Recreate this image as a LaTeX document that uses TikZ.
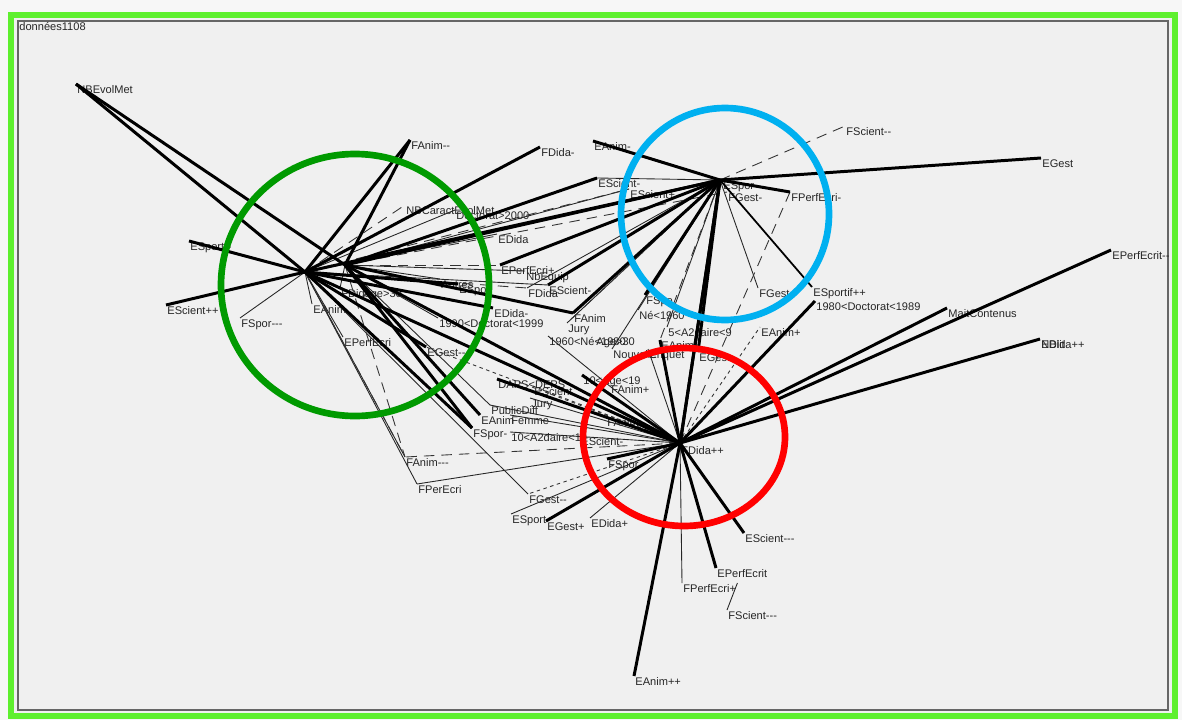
\documentclass[tikz,border=0pt]{standalone}
\usepackage{fontspec}
\setmainfont{Liberation Sans}[Ligatures=TeXOff]
\usetikzlibrary{positioning}
\definecolor{winbg}{HTML}{F0F0F0}
\definecolor{framegreen}{HTML}{5EF02E}
\definecolor{ringgreen}{HTML}{009A00}
\definecolor{ringblue}{HTML}{00B0F0}
\definecolor{ringred}{HTML}{FF0000}
\tikzstyle{lbl} = [anchor=north west, inner sep=0.6pt, font=\fontsize{6.3}{7}\selectfont, text=black!85]
\tikzstyle{heavy} = [line width=1.7pt, black]
\tikzstyle{medium} = [line width=1pt, black]
\tikzstyle{light} = [line width=0.5pt, black!85]
\tikzstyle{dashline} = [line width=0.5pt, black!80, dash pattern=on 6pt off 4pt]
\tikzstyle{dotline} = [line width=0.5pt, black!80, dash pattern=on 2pt off 2pt]
\tikzstyle{ring} = [line width=3.8pt]

\begin{document}
\begin{tikzpicture}[x=0.02cm, y=-0.02cm]
        % window
        \fill [white!97!black] (0,0) rectangle (1182,720);
        \fill [winbg] (11,15) rectangle (1175,716);
        \draw [framegreen, line width=3.4pt] (11,15) rectangle (1175,716);
        \draw [black!60, line width=1pt] (18,21) rectangle (1168,710);
        \node (title) [lbl] at (18,21) {données1108};

        % hubs
        \coordinate (hA) at (305,272);
        \coordinate (hB) at (345,265);
        \coordinate (hC) at (720,180);
        \coordinate (hD) at (680,443);

        % modalities
        \node (nbevol) [lbl] at (76,84) {NBEvolMet};
        \node (fanimmm) [lbl] at (410,140) {FAnim--};
        \node (fdidam) [lbl] at (540,147) {FDida-};
        \node (eanimm) [lbl] at (593,141) {EAnim-};
        \node (fscientmm) [lbl] at (845,126) {FScient--};
        \node (egest) [lbl] at (1041,158) {EGest};
        \node (escientm) [lbl] at (597,178) {EScient-};
        \node (escientp) [lbl] at (629,189) {EScient+};
        \node (esporc) [lbl] at (722,180) {ESpor};
        \node (fgestm) [lbl] at (727,192) {FGest-};
        \node (fperfm) [lbl] at (790,192) {FPerfEcri-};
        \node (nbcar) [lbl] at (405,205) {NBCaractEvolMet};
        \node (doct2000) [lbl] at (455,210) {Doctorat>2000};
        \node (edida) [lbl] at (497,234) {EDida};
        \node (esportmm) [lbl] at (189,241) {ESport--};
        \node (escientpp) [lbl] at (166,305) {EScient++};
        \node (fspormmm) [lbl] at (240,318) {FSpor---};
        \node (eanim) [lbl] at (312,304) {EAnim};
        \node (fdida) [lbl] at (340,288) {FDida};
        \node (age30a) [lbl] at (362,288) {Age>30};
        \node (eperf) [lbl] at (343,337) {EPerfEcri};
        \node (egestmm) [lbl] at (426,347) {EGest--};
        \node (autres) [lbl] at (440,279) {Autres};
        \node (espo) [lbl] at (458,284) {ESpor};
        \node (eperfp) [lbl] at (500,265) {EPerfEcri+};
        \node (nbequip) [lbl] at (525,271) {NbEquip};
        \node (fdidab) [lbl] at (527,288) {FDida};
        \node (escientb) [lbl] at (548,285) {EScient-};
        \node (edidam) [lbl] at (493,308) {EDida-};
        \node (d1990) [lbl] at (438,318) {1990<Doctorat<1999};
        \node (fanim) [lbl] at (573,313) {FAnim};
        \node (jury) [lbl] at (567,323) {Jury};
        \node (n1960) [lbl] at (548,336) {1960<Né<1980};
        \node (age30b) [lbl] at (595,336) {Age>30};
        \node (fspo) [lbl] at (645,295) {FSpo};
        \node (ne1960) [lbl] at (638,310) {Né<1960};
        \node (a2d59) [lbl] at (667,327) {5<A2daire<9};
        \node (eanimb) [lbl] at (660,340) {EAnim-};
        \node (nouv) [lbl] at (612,349) {Nouvelle};
        \node (enquet) [lbl] at (648,349) {Enquet};
        \node (egeb) [lbl] at (698,352) {EGest};
        \node (eanimp) [lbl] at (760,327) {EAnim+};
        \node (fgest) [lbl] at (758,288) {FGest};
        \node (esportpp) [lbl] at (812,287) {ESportif++};
        \node (d1980) [lbl] at (815,301) {1980<Doctorat<1989};
        \node (mait) [lbl] at (947,308) {MaitContenus};
        \node (eperfmm) [lbl] at (1111,250) {EPerfEcrit--};
        \node (nblit) [lbl] at (1040,339) {NBlit};
        \node (edidapp) [lbl] at (1040,339) {EDida++};
        \node (daps) [lbl] at (497,379) {DAPS<DEPS};
        \node (escientc) [lbl] at (533,386) {EScient};
        \node (juryb) [lbl] at (530,398) {Jury};
        \node (public) [lbl] at (490,405) {PublicDiff};
        \node (eanimf) [lbl] at (480,415) {EAnim};
        \node (femme) [lbl] at (510,415) {Femme};
        \node (fspor) [lbl] at (472,428) {FSpor-};
        \node (a2d1019) [lbl] at (510,432) {10<A2daire<19};
        \node (escientd) [lbl] at (580,436) {EScient-};
        \node (age1019) [lbl] at (582,375) {10<Age<19};
        \node (fanimp) [lbl] at (610,384) {FAnim+};
        \node (fanimm) [lbl] at (606,417) {FAnim-};
        \node (fsporb) [lbl] at (607,459) {FSpor};
        \node (fdidapp) [lbl] at (680,445) {FDida++};
        \node (fanimmmm) [lbl] at (405,457) {FAnim---};
        \node (fperecri) [lbl] at (417,484) {FPerEcri};
        \node (fgestmm) [lbl] at (528,494) {FGest--};
        \node (esport) [lbl] at (511,514) {ESport};
        \node (egestp) [lbl] at (546,521) {EGest+};
        \node (edidap) [lbl] at (590,518) {EDida+};
        \node (escientmmm) [lbl] at (744,533) {EScient---};
        \node (eperfecrit) [lbl] at (716,568) {EPerfEcrit};
        \node (fperfp) [lbl] at (682,583) {FPerfEcri+};
        \node (fscientmmm) [lbl] at (727,610) {FScient---};
        \node (eanimpp) [lbl] at (634,676) {EAnim++};

        % thin links
        \draw [light] (hA) -- (fspormmm.north west);
        \draw [light] (hA) -- (eanim.north west);
        \draw [light] (hA) -- (eperf.north west);
        \draw [light] (hA) -- (fanimmmm.north west);
        \draw [light] (hA) -- (fperecri.north west);
        \draw [light] (hA) -- (fgestmm.north west);
        \draw [light] (hA) -- (doct2000.north west);
        \draw [light] (hA) -- (edida.north west);
        \draw [light] (hB) -- (autres.north west);
        \draw [light] (hB) -- (d1990.north west);
        \draw [light] (hB) -- (public.north west);
        \draw [light] (hB) -- (nbequip.north west);
        \draw [light] (hB) -- (fdida.north west);
        \draw [light] (hB) -- (escientp.north west);
        \draw [light] (hA) -- (escientb.north west);
        \draw [light] (hC) -- (escientm.north west);
        \draw [light] (hC) -- (fgest.north west);
        \draw [light] (hC) -- (ne1960.north west);
        \draw [light] (hC) -- (a2d59.north west);
        \draw [light] (hC) -- (nouv.north west);
        \draw [light] (hC) -- (jury.north west);
        \draw [light] (hC) -- (fdidab.north west);
        \draw [light] (hD) -- (fperecri.north west);
        \draw [light] (hD) -- (fperfp.north west);
        \draw [light] (hD) -- (esport.north west);
        \draw [light] (hD) -- (edidap.north west);
        \draw [light] (hD) -- (public.north west);
        \draw [light] (hD) -- (juryb.north west);
        \draw [light] (hD) -- (a2d1019.north west);
        \draw [light] (hD) -- (enquet.north west);
        \draw [light] (hD) -- (fanimm.north west);
        \draw [light] (hD) -- (femme.north west);
        \draw [light] (hD) -- (n1960.north west);
        \draw [light] (fperfp.north east) -- (fscientmmm.north west);
        \draw [medium] (hC) -- (esportpp.north west);

        % dashed and dotted links
        \draw [dashline] (hA) -- (nbcar.north west);
        \draw [dashline] (hA) -- (escientp.north west);
        \draw [dashline] (hA) -- (fdidab.north west);
        \draw [dashline] (hB) -- (eperfp.north west);
        \draw [dashline] (hB) -- (fgestm.north west);
        \draw [dashline] (hA) -- (fanimmmm.north west);
        \draw [dashline] (hB) -- (fanimmmm.north west);
        \draw [dashline] (hD) -- (fanimmmm.north west);
        \draw [dashline] (hD) -- (fperfm.north west);
        \draw [dashline] (hC) -- (fscientmm.north west);
        \draw [dashline] (hC) -- (jury.north west);
        \draw [dashline] (hC) -- (eanimb.north west);
        \draw [dotline] (hD) -- (fgestmm.north west);
        \draw [dotline] (hD) -- (eanimp.north west);
        \draw [dotline] (hD) -- (egestmm.north west);
        \draw [dotline] (hD) -- (escientc.north west);

        % heavy links
        \draw [heavy] (hA) -- (nbevol.north west);
        \draw [heavy] (hB) -- (nbevol.north west);
        \draw [heavy] (hA) -- (esportmm.north west);
        \draw [heavy] (hA) -- (escientpp.north west);
        \draw [heavy] (hA) -- (fanimmm.north west);
        \draw [heavy] (hB) -- (fanimmm.north west);
        \draw [heavy] (hA) -- (fdidam.north west);
        \draw [heavy] (hA) -- (egestmm.north west);
        \draw [heavy] (hA) -- (fspor.north west);
        \draw [heavy] (hB) -- (fspor.north west);
        \draw [heavy] (hA) -- (edidam.north west);
        \draw [heavy] (hA) -- (espo.north west);
        \draw [heavy] (hA) -- (hD);
        \draw [heavy] (hB) -- (hD);
        \draw [heavy] (hA) -- (hC);
        \draw [heavy] (hB) -- (hC);
        \draw [heavy] (hB) -- (escientm.north west);
        \draw [heavy] (hB) -- (fanim.north west);
        \draw [heavy] (hB) -- (eanimf.north west);
        \draw [heavy] (hC) -- (eanimm.north west);
        \draw [heavy] (hC) -- (egest.north west);
        \draw [heavy] (hC) -- (fperfm.north west);
        \draw [heavy] (hC) -- (fanim.north west);
        \draw [heavy] (hC) -- (fspo.north west);
        \draw [heavy] (hC) -- (eperfp.north west);
        \draw [heavy] (hC) -- (escientb.north west);
        \draw [heavy] (hC) -- (egeb.north west);
        \draw [heavy] (hC) -- (hD);
        \draw [heavy] (hC) -- (fdidapp.north west);
        \draw [heavy] (hD) -- (eanimpp.north west);
        \draw [heavy] (hD) -- (eperfecrit.north west);
        \draw [heavy] (hD) -- (escientmmm.north west);
        \draw [heavy] (hD) -- (egestp.north west);
        \draw [heavy] (hD) -- (fsporb.north west);
        \draw [heavy] (hD) -- (mait.north west);
        \draw [heavy] (hD) -- (eperfmm.north west);
        \draw [heavy] (hD) -- (edidapp.north west);
        \draw [heavy] (hD) -- (d1980.north west);
        \draw [heavy] (hD) -- (daps.north west);
        \draw [heavy] (hD) -- (age1019.north west);
        \draw [heavy] (hD) -- (eanimb.north west);

        % highlighted groups
        \draw [ring, ringgreen] (355,285) ellipse [x radius=134, y radius=131];
        \draw [ring, ringblue] (725,214) ellipse [x radius=104, y radius=106];
        \draw [ring, ringred] (684,437) ellipse [x radius=101, y radius=89];
\end{tikzpicture}
\end{document}
